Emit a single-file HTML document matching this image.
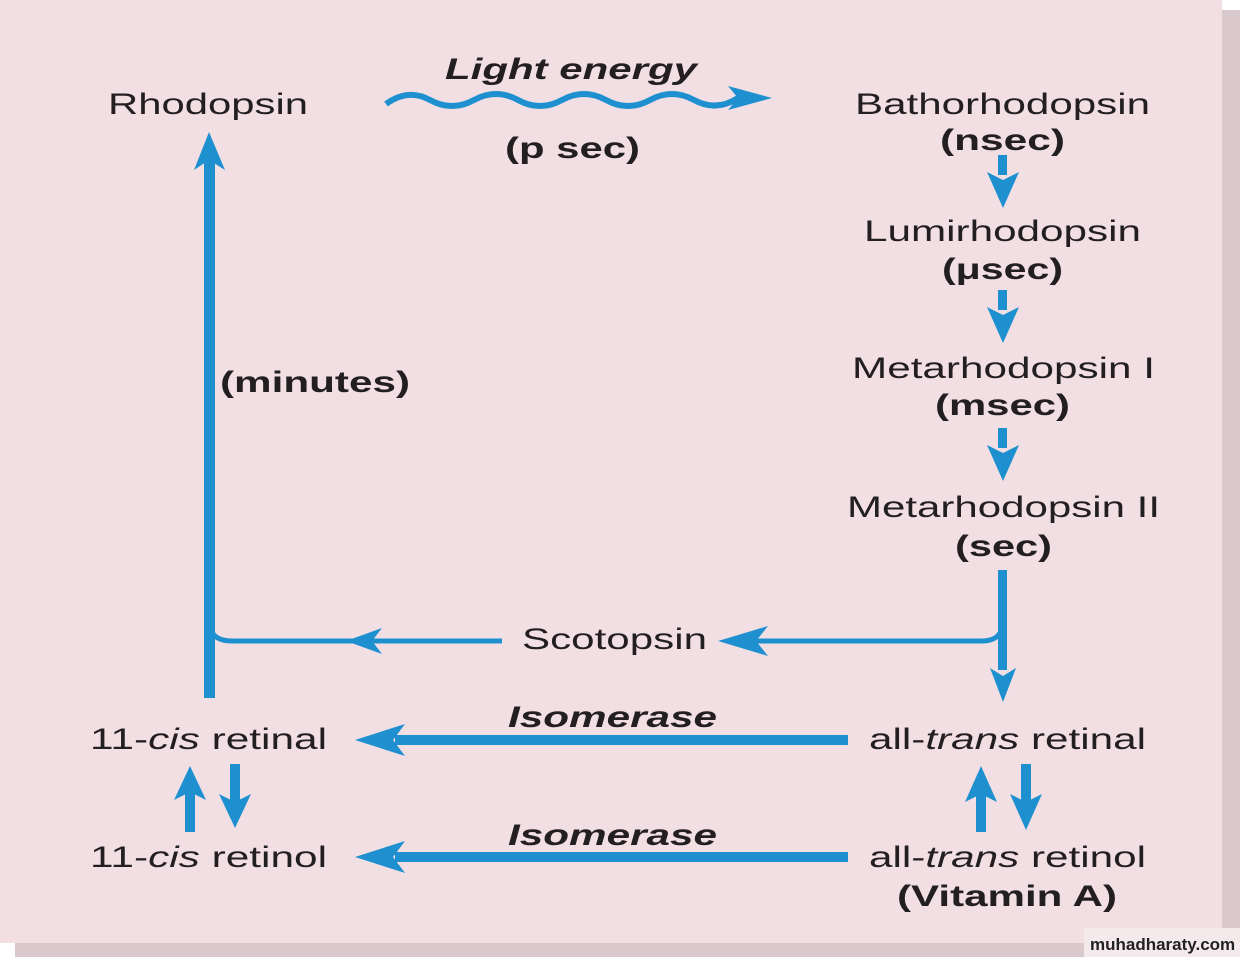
<!DOCTYPE html>
<html><head><meta charset="utf-8"><style>
html,body{margin:0;padding:0;background:#fff;}
svg{display:block;}
text{font-family:"Liberation Sans",sans-serif;fill:#231f20;font-size:30px;}
.b{font-weight:bold;}
</style></head><body>
<svg width="1240" height="957" viewBox="0 0 1240 957" xmlns="http://www.w3.org/2000/svg">
<rect x="0" y="0" width="1240" height="957" fill="#fff"/>
<rect x="1222" y="10" width="18" height="947" fill="#d9c9cd"/>
<rect x="15" y="943" width="1225" height="14" fill="#d9c9cd"/>
<rect x="0" y="0" width="1222" height="943" fill="#f2dfe4"/>
<rect x="1084" y="928" width="156" height="29" fill="#f4eaec"/>
<text x="1090" y="950" style="font-size:17px;font-weight:bold;fill:#222">muhadharaty.com</text>

<g fill="#1e90d0" stroke="#1e90d0">
<path d="M386 104 Q 408 88 430 100 T 474 100 T 518 100 T 562 100 T 606 100 T 650 100 T 694 100 T 738 98" fill="none" stroke-width="6"/>
<polygon points="728,86 772,98 728,110 738,98" stroke="none"/>
<rect x="204" y="160" width="11" height="538" stroke="none"/>
<polygon points="194,170 209,132 225,170 209,160" stroke="none"/>
<path d="M209 620 Q 209 641 232 641 L 502 641" fill="none" stroke-width="5"/>
<polygon points="346,641 382,628 372,641 382,654" stroke="none"/>
<rect x="998" y="570" width="9" height="100" stroke="none"/>
<polygon points="990,668 1003,702 1016,668 1003,676" stroke="none"/>
<path d="M1003 620 Q 1003 641 982 641 L 750 641" fill="none" stroke-width="5"/>
<polygon points="718,641 768,626 756,641 768,656" stroke="none"/>
<rect x="998" y="155" width="9" height="20" stroke="none"/>
<polygon points="987,172 1003,208 1019,172 1003,180" stroke="none"/>
<rect x="998" y="290" width="9" height="20" stroke="none"/>
<polygon points="987,307 1003,343 1019,307 1003,315" stroke="none"/>
<rect x="998" y="428" width="9" height="20" stroke="none"/>
<polygon points="987,445 1003,481 1019,445 1003,453" stroke="none"/>
<rect x="395" y="735" width="453" height="10" stroke="none"/>
<polygon points="355,740 405,724 393,740 405,756" stroke="none"/>
<rect x="395" y="852" width="453" height="10" stroke="none"/>
<polygon points="355,857 405,841 393,857 405,873" stroke="none"/>
<rect x="185" y="790" width="10" height="42" stroke="none"/>
<polygon points="174,800 190,766 206,800 190,792" stroke="none"/>
<rect x="230" y="764" width="10" height="40" stroke="none"/>
<polygon points="219,794 235,828 251,794 235,802" stroke="none"/>
<rect x="976" y="792" width="10" height="40" stroke="none"/>
<polygon points="965,802 981,766 997,802 981,794" stroke="none"/>
<rect x="1021" y="764" width="10" height="40" stroke="none"/>
<polygon points="1010,794 1026,830 1042,794 1026,802" stroke="none"/>
</g>

<g lengthAdjust="spacingAndGlyphs">
<text x="108" y="114" textLength="200" lengthAdjust="spacingAndGlyphs">Rhodopsin</text>
<text x="445" y="79" class="b" font-style="italic" textLength="252" lengthAdjust="spacingAndGlyphs">Light energy</text>
<text x="505" y="158" class="b" textLength="135" lengthAdjust="spacingAndGlyphs">(p sec)</text>
<text x="855" y="114" textLength="295" lengthAdjust="spacingAndGlyphs">Bathorhodopsin</text>
<text x="940" y="150" class="b" textLength="125" lengthAdjust="spacingAndGlyphs">(nsec)</text>
<text x="864" y="241" textLength="277" lengthAdjust="spacingAndGlyphs">Lumirhodopsin</text>
<text x="942" y="279" class="b" textLength="121" lengthAdjust="spacingAndGlyphs">(μsec)</text>
<text x="852" y="378" textLength="303" lengthAdjust="spacingAndGlyphs">Metarhodopsin I</text>
<text x="935" y="415" class="b" textLength="135" lengthAdjust="spacingAndGlyphs">(msec)</text>
<text x="847" y="517" textLength="313" lengthAdjust="spacingAndGlyphs">Metarhodopsin II</text>
<text x="955" y="556" class="b" textLength="97" lengthAdjust="spacingAndGlyphs">(sec)</text>
<text x="220" y="392" class="b" textLength="190" lengthAdjust="spacingAndGlyphs">(minutes)</text>
<text x="522" y="649" textLength="185" lengthAdjust="spacingAndGlyphs">Scotopsin</text>
<text x="508" y="727" class="b" font-style="italic" textLength="209" lengthAdjust="spacingAndGlyphs">Isomerase</text>
<text x="508" y="845" class="b" font-style="italic" textLength="209" lengthAdjust="spacingAndGlyphs">Isomerase</text>
<text x="90" y="749" textLength="237" lengthAdjust="spacingAndGlyphs">11-<tspan font-style="italic">cis</tspan> retinal</text>
<text x="90" y="867" textLength="237" lengthAdjust="spacingAndGlyphs">11-<tspan font-style="italic">cis</tspan> retinol</text>
<text x="869" y="749" textLength="277" lengthAdjust="spacingAndGlyphs">all-<tspan font-style="italic">trans</tspan> retinal</text>
<text x="869" y="867" textLength="277" lengthAdjust="spacingAndGlyphs">all-<tspan font-style="italic">trans</tspan> retinol</text>
<text x="897" y="906" class="b" textLength="220" lengthAdjust="spacingAndGlyphs">(Vitamin A)</text>
</g>
</svg>
</body></html>
